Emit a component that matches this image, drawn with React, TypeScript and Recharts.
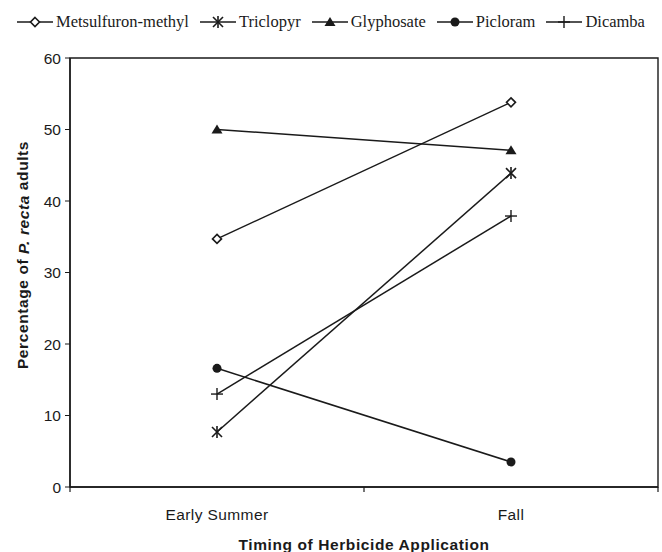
import React from 'react';
import { LineChart, Line, XAxis, YAxis, Legend, ReferenceArea } from 'recharts';

const categories = ['Early Summer', 'Fall'];
const metsulfuron = [34.7, 53.8];
const triclopyr = [7.7, 43.9];
const glyphosate = [50.0, 47.1];
const picloram = [16.6, 3.5];
const dicamba = [13.0, 37.9];
const yTicks = [0, 10, 20, 30, 40, 50, 60];

const data = categories.map((timing, i) => ({
  timing,
  metsulfuron: metsulfuron[i],
  triclopyr: triclopyr[i],
  glyphosate: glyphosate[i],
  picloram: picloram[i],
  dicamba: dicamba[i],
}));

const INK = '#1a1a1a';
const SANS = '"Liberation Sans", Arial, sans-serif';

type MarkerKind = 'diamond' | 'asterisk' | 'triangle' | 'circle' | 'plus';

const Marker = ({ kind, cx, cy }: { kind: MarkerKind; cx: number; cy: number }) => {
  switch (kind) {
    case 'diamond':
      return (
        <polygon
          points={`${cx},${cy - 4.5} ${cx + 4.5},${cy} ${cx},${cy + 4.5} ${cx - 4.5},${cy}`}
          fill="#fff"
          stroke={INK}
          strokeWidth={1.6}
        />
      );
    case 'asterisk':
      return (
        <g stroke={INK} strokeWidth={1.6}>
          <line x1={cx - 5} y1={cy - 5} x2={cx + 5} y2={cy + 5} />
          <line x1={cx - 5} y1={cy + 5} x2={cx + 5} y2={cy - 5} />
          <line x1={cx} y1={cy - 6} x2={cx} y2={cy + 6} />
        </g>
      );
    case 'triangle':
      return <polygon points={`${cx},${cy - 5} ${cx + 5.5},${cy + 4} ${cx - 5.5},${cy + 4}`} fill={INK} />;
    case 'circle':
      return <circle cx={cx} cy={cy} r={4.5} fill={INK} />;
    case 'plus':
      return (
        <g stroke={INK} strokeWidth={1.4}>
          <line x1={cx - 6} y1={cy} x2={cx + 6} y2={cy} />
          <line x1={cx} y1={cy - 6} x2={cx} y2={cy + 6} />
        </g>
      );
  }
  return null;
};

const series: { key: string; name: string; kind: MarkerKind }[] = [
  { key: 'metsulfuron', name: 'Metsulfuron-methyl', kind: 'diamond' },
  { key: 'triclopyr', name: 'Triclopyr', kind: 'asterisk' },
  { key: 'glyphosate', name: 'Glyphosate', kind: 'triangle' },
  { key: 'picloram', name: 'Picloram', kind: 'circle' },
  { key: 'dicamba', name: 'Dicamba', kind: 'plus' },
];

const dotFor = (kind: MarkerKind) => (props: any) => {
  const { cx, cy, index } = props;
  if (cx == null || cy == null) return <g key={index} />;
  return <Marker key={index} kind={kind} cx={cx} cy={cy} />;
};

const LegendContent = () => (
  <div
    style={{
      height: 28,
      display: 'flex',
      alignItems: 'center',
      paddingLeft: 16,
      fontFamily: '"Liberation Serif", serif',
      fontSize: 16.5,
      color: INK,
      whiteSpace: 'nowrap',
    }}
  >
    {series.map((s) => (
      <span key={s.key} style={{ display: 'inline-flex', alignItems: 'center', marginRight: 10 }}>
        <svg width={38} height={14} style={{ marginRight: 2 }}>
          <line x1={1} y1={7} x2={37} y2={7} stroke={INK} strokeWidth={1.4} />
          <Marker kind={s.kind} cx={19} cy={7} />
        </svg>
        {s.name}
      </span>
    ))}
  </div>
);

const XTick = (props: any) => {
  const { x, y, payload, index } = props;
  const half = payload.offset ?? 0;
  const top = y - 8;
  return (
    <g>
      <line x1={x - half} y1={top} x2={x - half} y2={top + 5} stroke={INK} strokeWidth={1.2} />
      {index === categories.length - 1 && (
        <line x1={x + half} y1={top} x2={x + half} y2={top + 5} stroke={INK} strokeWidth={1.2} />
      )}
      <text x={x} y={y + 25} textAnchor="middle" fill={INK} fontSize={15.5} letterSpacing={0.4} fontFamily={SANS}>
        {payload.value}
      </text>
    </g>
  );
};

export default function App() {
  return (
    <div style={{ position: 'absolute', left: 0, top: 0, width: 662, height: 552, background: '#fff' }}>
      <LineChart width={662} height={552} data={data} margin={{ top: 30, right: 4, bottom: 0, left: 0 }}>
        <Legend
          verticalAlign="top"
          align="left"
          content={<LegendContent />}
          wrapperStyle={{ top: 8, left: 0 }}
        />
        <ReferenceArea y1={0} y2={60} fill="none" stroke={INK} strokeWidth={1.4} ifOverflow="visible" />
        <XAxis
          dataKey="timing"
          scale="band"
          tickLine={false}
          axisLine={{ stroke: INK, strokeWidth: 1.4 }}
          tick={<XTick />}
          height={65}
          interval={0}
          label={{
            value: 'Timing of Herbicide Application',
            position: 'insideBottom',
            offset: 0,
            dy: -2,
            fill: INK,
            fontSize: 15.5,
            letterSpacing: 0.6,
            fontWeight: 700,
            fontFamily: SANS,
          }}
        />
        <YAxis
          domain={[0, 60]}
          ticks={yTicks}
          width={70}
          tickSize={5}
          tickMargin={4}
          tickLine={{ stroke: INK }}
          axisLine={{ stroke: INK, strokeWidth: 1.4 }}
          tick={{ fill: INK, fontSize: 15.5, fontFamily: SANS }}
          label={
            <text
              x={20}
              y={270}
              transform="rotate(-90 20 270)"
              textAnchor="middle"
              dominantBaseline="central"
              fill={INK}
              fontSize={15.5}
              letterSpacing={0.6}
              fontWeight={700}
              fontFamily={SANS}
            >
              Percentage of <tspan fontStyle="italic">P. recta</tspan> adults
            </text>
          }
        />
        {series.map((s) => (
          <Line
            key={s.key}
            type="linear"
            dataKey={s.key}
            name={s.name}
            stroke={INK}
            strokeWidth={1.5}
            dot={dotFor(s.kind)}
            activeDot={false}
            isAnimationActive={false}
          />
        ))}
      </LineChart>
    </div>
  );
}
